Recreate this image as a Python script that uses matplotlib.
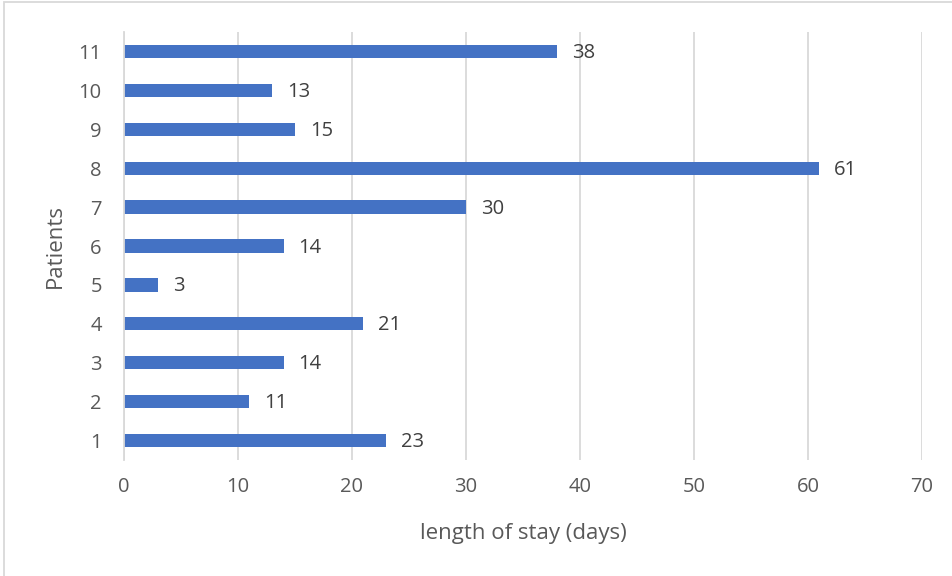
import matplotlib.pyplot as plt
from matplotlib.patches import Rectangle

patients = [1, 2, 3, 4, 5, 6, 7, 8, 9, 10, 11]
stay_days = [23, 11, 14, 21, 3, 14, 30, 61, 15, 13, 38]

plt.rcParams['font.family'] = ['Open Sans', 'DejaVu Sans']
txt = '#595959'
grid = '#d9d9d9'

W, H = 953, 576
fig = plt.figure(figsize=(W / 100, H / 100), dpi=100)
ax = fig.add_axes([124 / W, 1 - 460 / H, (922 - 124) / W, (460 - 32) / H])

ax.barh(patients, stay_days, height=0.34, color='#4472c4')
for p, v in zip(patients, stay_days):
    ax.text(v + 1.3, p - 0.04, str(v), va='center', ha='left', fontsize=14.5, color='#404040')

ax.set_xlim(0, 70)
ax.set_ylim(0.5, 11.5)
ax.set_xticks(range(0, 71, 10))
ax.set_yticks(patients)
ax.tick_params(length=0, labelsize=14.5, labelcolor=txt, pad=12)
ax.tick_params(axis='y', pad=16)
ax.xaxis.grid(True, color=grid, linewidth=1.3)
ax.set_axisbelow(True)
for s in ['top', 'right', 'bottom']:
    ax.spines[s].set_visible(False)
ax.spines['left'].set_color(grid)
ax.spines['left'].set_linewidth(1.3)

ax.set_xlabel('length of stay (days)', fontsize=16, color=txt, labelpad=19)
ax.set_ylabel('Patients', fontsize=16, color=txt, labelpad=9)

# light chart border (top and left visible)
fig.patches.append(Rectangle((4 / W, -0.1), 1.2, 1 - 2 / H + 0.1, transform=fig.transFigure,
                             fill=False, edgecolor=grid, linewidth=1.3))

fig.savefig('out.png', dpi=100)
